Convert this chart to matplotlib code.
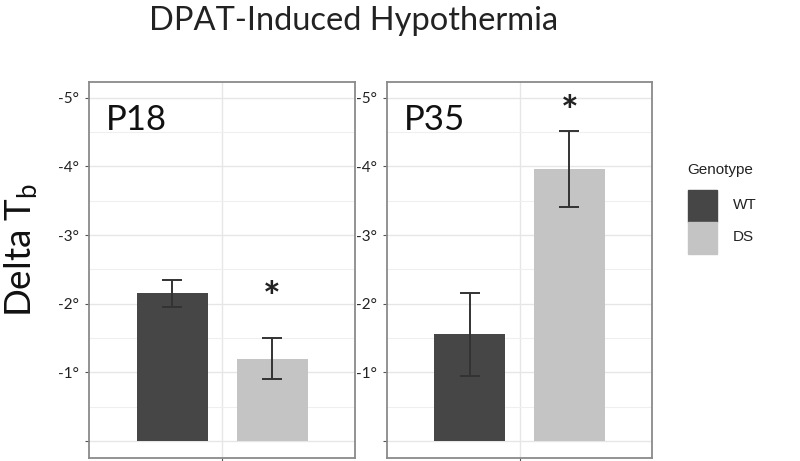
import matplotlib
matplotlib.use("Agg")
import matplotlib.pyplot as plt
import numpy as np

# ---- data ----
ages = ["P18", "P35"]
genotypes = ["WT", "DS"]
means = {"P18": [-2.15, -1.20], "P35": [-1.55, -3.96]}
sems = {"P18": [0.20, 0.30], "P35": [0.61, 0.55]}
star_y = {"P18": -2.2, "P35": -4.9}
yticks = [0, -1, -2, -3, -4, -5]
ytick_labels = ["", "-1°", "-2°", "-3°", "-4°", "-5°"]
minor_yticks = [-0.5, -1.5, -2.5, -3.5, -4.5]

colors = ["#464646", "#c4c4c4"]
plt.rcParams['font.family'] = ['Lato', 'DejaVu Sans']

fig = plt.figure(figsize=(8, 4.61), dpi=100)
W, H = 800, 461
panels = [(89, 355), (387, 652)]
top, bot = 82, 458

xpos = np.array([1.0, 2.0])
for (l, r), age in zip(panels, ages):
    ax = fig.add_axes([l / W, 1 - bot / H, (r - l) / W, (bot - top) / H])
    ax.bar(xpos, means[age], width=0.71, color=colors, zorder=2)
    ax.errorbar(xpos, means[age], yerr=sems[age], fmt='none', ecolor="#333333",
                elinewidth=1.4, capsize=7, capthick=1.4, zorder=3)
    ax.annotate("*", xy=(2.0, star_y[age]), xytext=(0, -7), textcoords="offset points",
                ha="center", va="center", fontsize=30, fontweight="bold",
                color="#222222", zorder=4)
    ax.text(0.34, -4.53, age, ha="left", va="baseline", fontsize=25, color="#111111")
    ax.set_yticks(yticks)
    ax.set_yticklabels(ytick_labels, fontsize=11, color="#222222")
    ax.set_yticks(minor_yticks, minor=True)
    ax.set_xticks([1.5])
    ax.set_xticklabels([""])
    ax.set_xlim(1.5 - 1.33, 1.5 + 1.33)
    ax.set_ylim(0.25, -5.23)
    ax.tick_params(axis="both", which="major", length=3, width=0.8, color="#555555", pad=4)
    ax.tick_params(axis="y", which="minor", length=0)
    ax.grid(True, which="major", color="#e6e6e6", lw=1.0, zorder=0)
    ax.grid(True, which="minor", axis="y", color="#efefef", lw=0.8, zorder=0)
    ax.set_axisbelow(True)
    for s in ax.spines.values():
        s.set_color("#8a8a8a")
        s.set_linewidth(1.3)

fig.text(354 / W, 1 - 21 / H, "DPAT-Induced Hypothermia", ha="center", va="center",
         fontsize=23.5, color="#222222")
fig.text(21 / W, 1 - 250 / H, r"Delta T$_\mathregular{b}$", ha="center", va="center",
         rotation=90, fontsize=26.5, color="#111111")

# legend
fig.text(687 / W, 1 - 170 / H, "Genotype", ha="left", va="center", fontsize=11,
         family=["Liberation Sans"], color="#222222")
for i, (g, c) in enumerate(zip(genotypes, colors)):
    y0 = 190 + i * 32
    fig.patches.append(plt.Rectangle((688 / W, 1 - (y0 + 32) / H), 29 / W, 32 / H,
                                     transform=fig.transFigure, color=c))
    fig.text(733 / W, 1 - (y0 + 15) / H, g, ha="left", va="center", fontsize=11,
             family=["Liberation Sans"], color="#222222")

fig.savefig("out.png", dpi=100)
